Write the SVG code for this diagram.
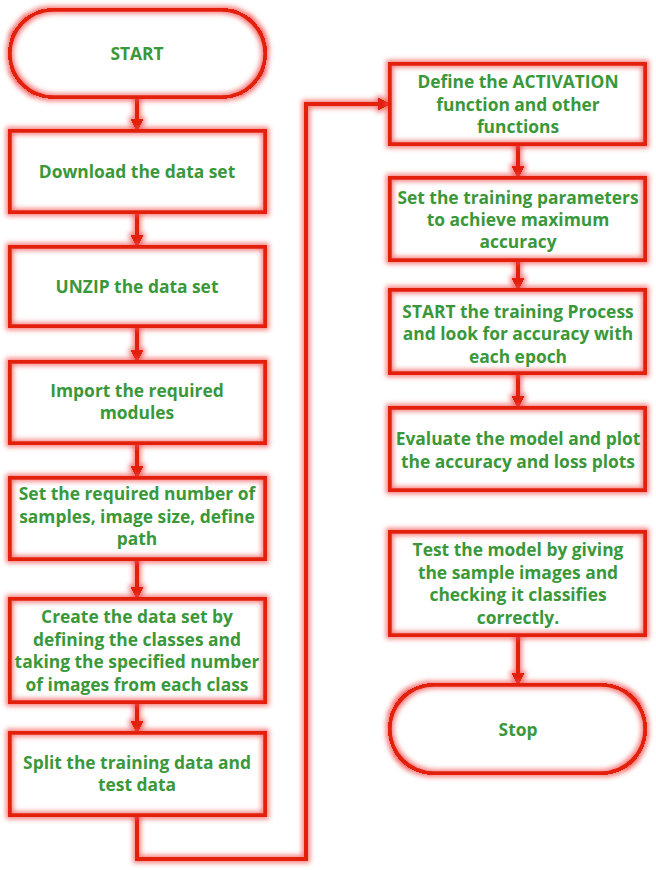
<svg xmlns="http://www.w3.org/2000/svg" width="656" height="870" viewBox="0 0 656 870">
<defs>
<filter id="glow" filterUnits="userSpaceOnUse" x="0" y="0" width="656" height="870" color-interpolation-filters="sRGB">
<feColorMatrix in="SourceGraphic" type="matrix" values="0 0 0 0 0.95  0 0 0 0 0.3  0 0 0 0 0.3  0.95 -0.95 0 0 0" result="red"/>
<feMorphology in="red" operator="dilate" radius="1.5" result="fat"/>
<feGaussianBlur in="fat" stdDeviation="2.5" result="blur"/>
<feColorMatrix in="SourceGraphic" type="matrix" values="0 0 0 0 0.886  0 0 0 0 0.125  0 0 0 0 0.047  1.4 -1.4 0 0 0" result="sharp"/>
<feMerge><feMergeNode in="SourceGraphic"/><feMergeNode in="blur"/><feMergeNode in="sharp"/></feMerge>
</filter>
<marker id="arr" markerUnits="userSpaceOnUse" markerWidth="14" markerHeight="12" refX="12" refY="6" orient="auto">
<path d="M0,0 L12,6 L0,12 Z" fill="#e2200c"/>
</marker>
<style>
.shape{fill:#fff;stroke:#e2200c;stroke-width:3}
.conn{fill:none;stroke:#e2200c;stroke-width:3}
text{font-family:"Open Sans","Noto Sans","Liberation Sans",sans-serif;font-weight:bold;font-size:17.4px;fill:#3a983a;text-anchor:middle;dominant-baseline:central}
</style>
</defs>
<rect width="656" height="870" fill="#fff"/>
<g id="connectors" filter="url(#glow)">
<path class="conn" d="M137,97 V131" marker-end="url(#arr)"/>
<path class="conn" d="M137,212 V247" marker-end="url(#arr)"/>
<path class="conn" d="M137,326 V362" marker-end="url(#arr)"/>
<path class="conn" d="M137,443 V478" marker-end="url(#arr)"/>
<path class="conn" d="M137,559 V599" marker-end="url(#arr)"/>
<path class="conn" d="M137,702 V733" marker-end="url(#arr)"/>
<path class="conn" d="M137,815 V859 H306 V104 H390" marker-end="url(#arr)"/>
<path class="conn" d="M518,144 V178" marker-end="url(#arr)"/>
<path class="conn" d="M518,260 V290" marker-end="url(#arr)"/>
<path class="conn" d="M518,373 V408" marker-end="url(#arr)"/>
<path class="conn" d="M518,635 V685" marker-end="url(#arr)"/>
</g>
<g id="start"><rect class="shape" filter="url(#glow)" x="10" y="10" width="255" height="87" rx="43.5"/><text x="137" y="53">START</text></g>
<g id="download"><rect class="shape" filter="url(#glow)" x="10" y="131" width="255" height="81"/><text x="137" y="171">Download the data set</text></g>
<g id="unzip"><rect class="shape" filter="url(#glow)" x="10" y="247" width="255" height="79"/><text x="137" y="286">UNZIP the data set</text></g>
<g id="import"><rect class="shape" filter="url(#glow)" x="10" y="362" width="255" height="81"/><text x="137" y="390">Import the required</text><text x="137" y="412">modules</text></g>
<g id="setparams"><rect class="shape" filter="url(#glow)" x="10" y="478" width="255" height="81"/><text x="137" y="493">Set the required number of</text><text x="137" y="516">samples, image size, define</text><text x="137" y="538">path</text></g>
<g id="create"><rect class="shape" filter="url(#glow)" x="10" y="599" width="255" height="103"/><text x="137" y="616">Create the data set by</text><text x="137" y="639">defining the classes and</text><text x="137" y="661">taking the specified number</text><text x="137" y="684">of images from each class</text></g>
<g id="split"><rect class="shape" filter="url(#glow)" x="10" y="733" width="255" height="82"/><text x="137" y="762">Split the training data and</text><text x="137" y="784">test data</text></g>
<g id="define"><rect class="shape" filter="url(#glow)" x="390" y="64" width="255" height="80"/><text x="518" y="81">Define the ACTIVATION</text><text x="518" y="104">function and other</text><text x="518" y="126">functions</text></g>
<g id="training-params"><rect class="shape" filter="url(#glow)" x="390" y="178" width="255" height="82"/><text x="518" y="197">Set the training parameters</text><text x="518" y="219">to achieve maximum</text><text x="518" y="241">accuracy</text></g>
<g id="train"><rect class="shape" filter="url(#glow)" x="390" y="290" width="255" height="83"/><text x="518" y="311">START the training Process</text><text x="518" y="333">and look for accuracy with</text><text x="518" y="356">each epoch</text></g>
<g id="evaluate"><rect class="shape" filter="url(#glow)" x="390" y="408" width="255" height="82"/><text x="518" y="438">Evaluate the model and plot</text><text x="518" y="461">the accuracy and loss plots</text></g>
<g id="test"><rect class="shape" filter="url(#glow)" x="390" y="532" width="255" height="103"/><text x="518" y="549">Test the model by giving</text><text x="518" y="572">the sample images and</text><text x="518" y="594">checking it classifies</text><text x="518" y="617">correctly.</text></g>
<g id="stop"><rect class="shape" filter="url(#glow)" x="390" y="685" width="255" height="88" rx="44"/><text x="518" y="729">Stop</text></g>
</svg>
